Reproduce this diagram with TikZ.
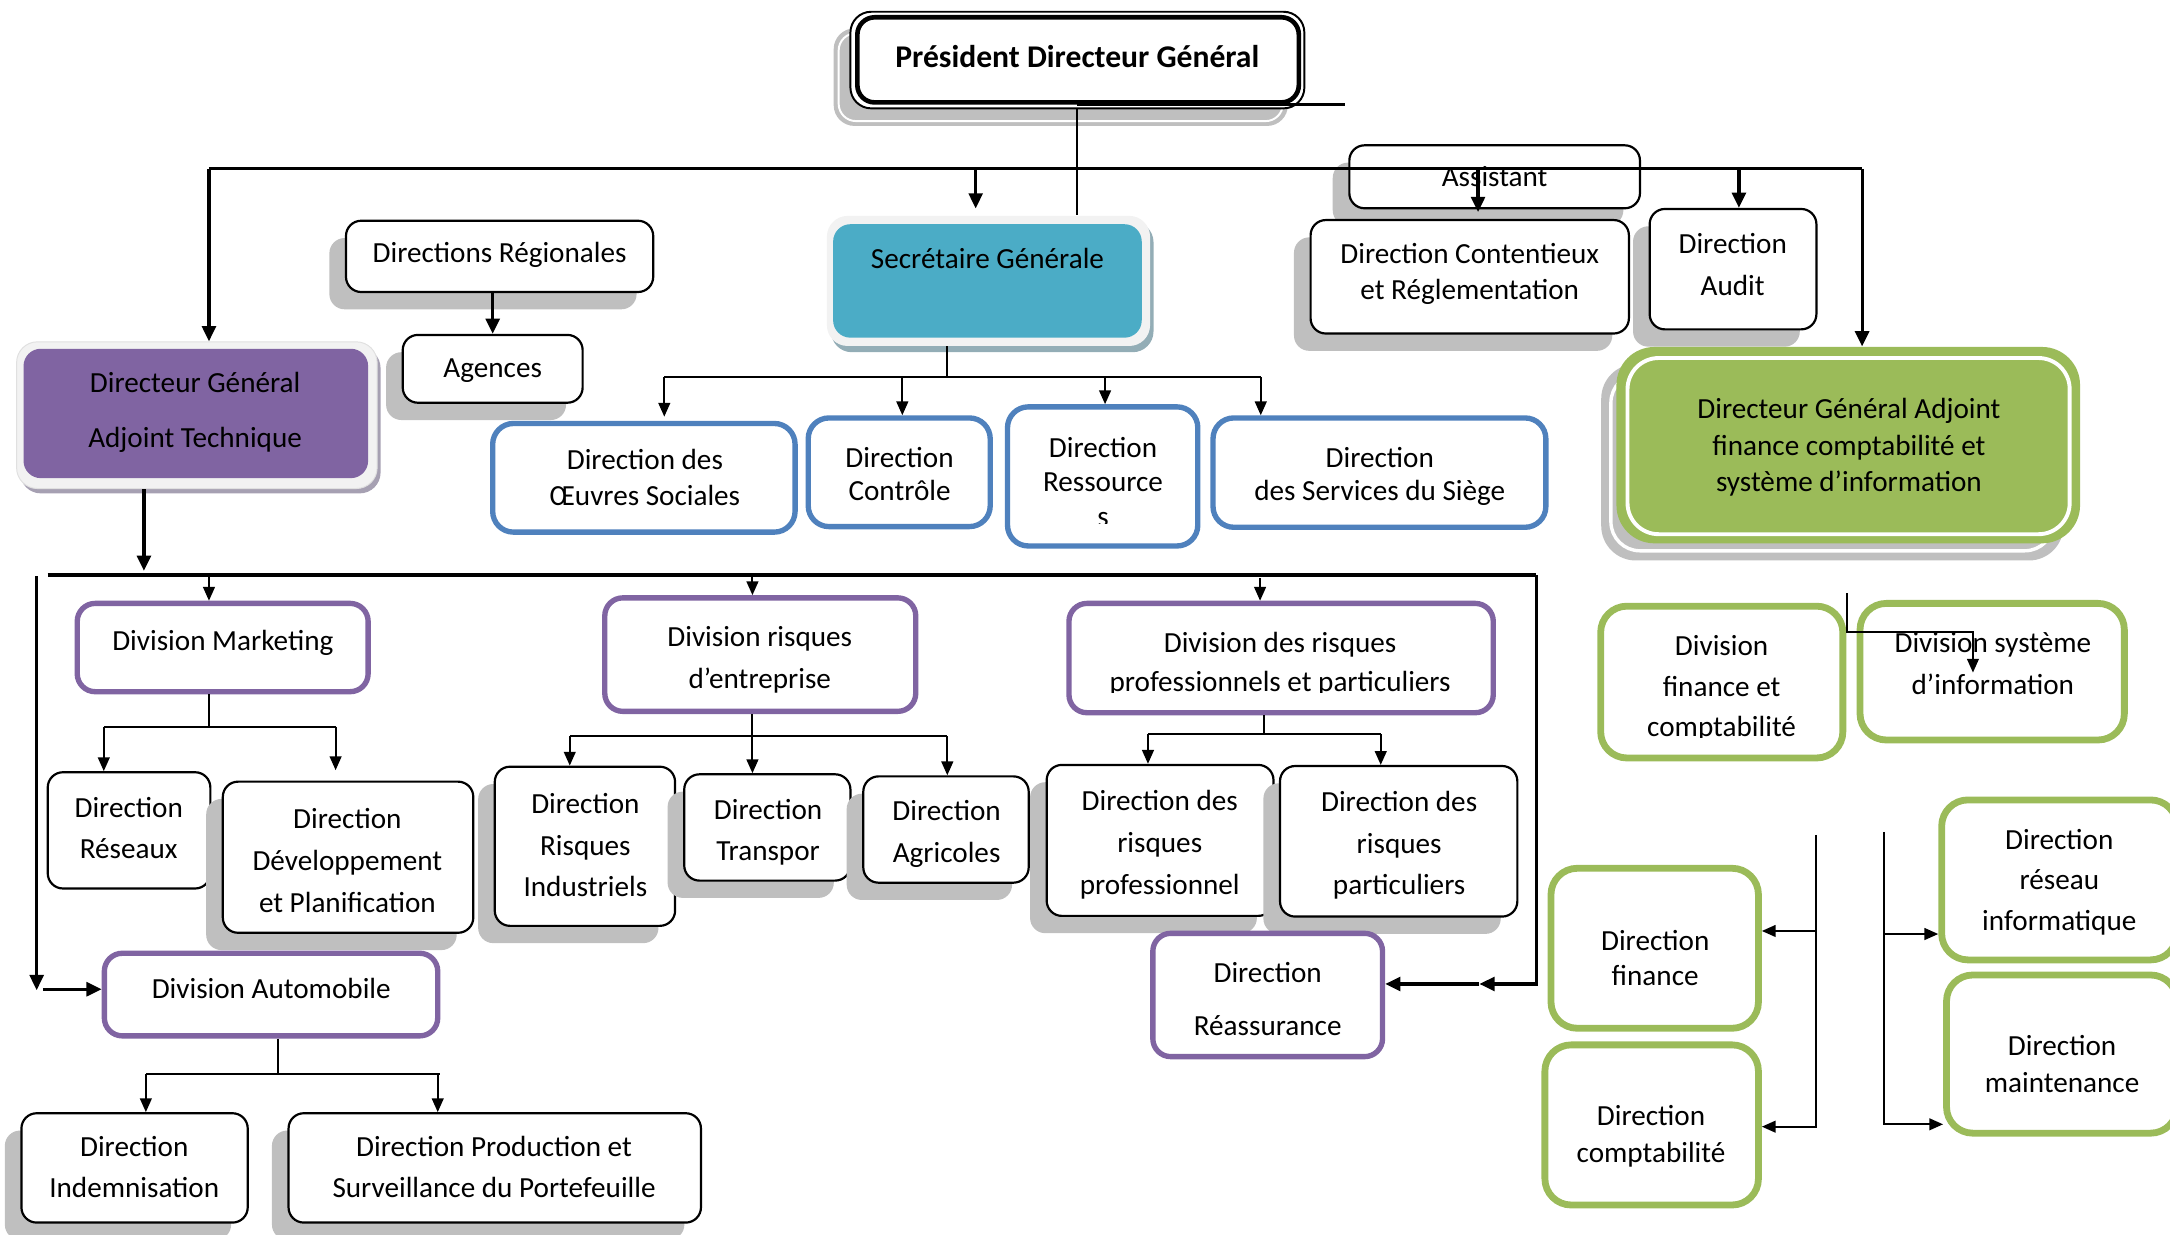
\documentclass[tikz,border=0pt]{standalone}
\usepackage{fontspec}
\setmainfont{Carlito}
\usetikzlibrary{fit,arrows.meta}

\definecolor{shd}{HTML}{BFBFBF}
\definecolor{vio}{HTML}{8064A2}
\definecolor{blu}{HTML}{4F81BD}
\definecolor{grn}{HTML}{9BBB59}
\definecolor{cya}{HTML}{4BACC6}
\definecolor{frm}{HTML}{F2F2F2}
\definecolor{vioshd}{HTML}{A6A0B2}
\definecolor{cyashd}{HTML}{93ADB6}

\tikzset{
  blk/.style={draw=black, line width=0.9pt, fill=white, rounded corners=0.22cm, inner sep=0pt},
  bbox/.style={draw=blu, line width=2.2pt, fill=white, rounded corners=0.3cm, inner sep=0pt},
  pbox/.style={draw=vio, line width=2.2pt, fill=white, rounded corners=0.26cm, inner sep=0pt},
  gbox/.style={draw=grn, line width=2.8pt, fill=white, rounded corners=0.38cm, inner sep=0pt},
  shadowfill/.style={fill=shd, rounded corners=0.22cm},
  tx/.style={anchor=base, inner sep=0pt, font=\fontsize{12pt}{14pt}\selectfont},
  bus/.style={line width=1.3pt},
  busa/.style={line width=1.3pt, -{Triangle[length=0.22cm,width=0.2cm]}},
  thn/.style={line width=0.8pt},
  thna/.style={line width=0.8pt, -{Triangle[length=0.2cm,width=0.17cm]}},
}

% black box with a grey drop shadow: name, x1, y1, x2, y2
\newcommand\shbox[5]{%
  \fill[shadowfill] (#2-12,#3+12.5) rectangle (#4-12,#5+12.5);
  \node[blk, fit={(#2,#3) (#4,#5)}] (#1) {};}
% centred text lines: name, x, first baseline, line step, lines
\newcommand\txl[5]{%
  \foreach \myline [count=\i from 0] in {#5}{%
    \node[tx] (#1\i) at (#2,{#3+\i*#4}) {\myline};}}

\begin{document}
\begin{tikzpicture}[x=0.02cm, y=-0.02cm]
\useasboundingbox (0,0) rectangle (1568,892);

% ---------- top level ----------
\fill[shd, rounded corners=0.3cm] (602.4,20.5) rectangle (930.6,91);
\draw[white, line width=0.8pt, rounded corners=0.25cm] (606,24) rectangle (927,87.5);
\node[draw=black, line width=0.8pt, fill=white, rounded corners=0.3cm, inner sep=0pt,
      fit={(614.5,8.5) (942.5,78.3)}] (pdg) {};
\draw[line width=1.9pt, rounded corners=0.25cm] (619.5,12.5) rectangle (938.5,74);

\shbox{assist}{975}{105}{1185}{150.5}
\shbox{dirreg}{250}{159.5}{472}{211}
\shbox{agences}{291}{242}{421}{291}
\shbox{cont}{947}{159}{1177}{241}
\shbox{audit}{1192}{151}{1312.5}{238}

% Secrétaire Générale
\fill[cyashd, rounded corners=0.3cm] (600.5,160) rectangle (833.5,254.5);
\node[fill=frm, rounded corners=0.3cm, inner sep=0pt, fit={(597.5,156) (831,250)}] (sg) {};
\fill[cya, rounded corners=0.25cm] (602,162) rectangle (825,244);

% Directeur Général Adjoint Technique
\fill[vioshd, rounded corners=0.3cm] (14.5,251) rectangle (275,356.5);
\node[fill=frm, draw=black!12, line width=0.4pt, rounded corners=0.3cm, inner sep=0pt,
      fit={(12,247) (272.5,353)}] (dgat) {};
\fill[vio, rounded corners=0.25cm] (17,252) rectangle (266,345.5);

% Directeur Général Adjoint finance
\fill[shd, rounded corners=0.5cm] (1157,263) rectangle (1491,405);
\draw[white, line width=1.4pt, rounded corners=0.42cm] (1164,270) rectangle (1484,398);
\node[fill=grn, rounded corners=0.55cm, inner sep=0pt, fit={(1168,250.7) (1503,392.6)}] (dgaf) {};
\draw[white, line width=1.6pt, rounded corners=0.45cm] (1176,258.7) rectangle (1495.5,386);

% directions of the Secrétaire Générale
\node[bbox, fit={(356,306) (574.5,384.5)}] (oeuvres) {};
\node[bbox, fit={(584,302) (715.5,380.5)}] (controle) {};
\node[bbox, fit={(728,294) (865.5,394.5)}] (ressources) {};
\node[bbox, fit={(876.5,302) (1117,381)}] (siege) {};

% divisions
\node[pbox, fit={(55.8,436) (266,499.8)}] (mkt) {};
\node[pbox, fit={(437,432) (661.7,514)}] (divrisq) {};
\node[pbox, fit={(772.4,436) (1079,515)}] (divdes) {};
\node[gbox, fit={(1156.6,438) (1331.6,547.7)}] (divfin) {};
\node[gbox, fit={(1344,436) (1535,534.7)}] (divsys) {};

% directions of the technical divisions
\node[blk, fit={(34.5,558) (152,642)}] (reseaux) {};
\shbox{devel}{161}{564.8}{342}{674}
\shbox{indus}{357.5}{554}{487.8}{669}
\shbox{transp}{494.4}{559.5}{614.5}{636.3}
\shbox{agri}{623.8}{561}{743.3}{637.8}
\shbox{prof}{756.3}{552.7}{920.2}{661.8}
\shbox{part}{924.9}{553.5}{1096.4}{662.3}
\node[pbox, fit={(833,674.4) (999,763.5)}] (reass) {};
\node[pbox, fit={(75.4,688.8) (316.3,748.5)}] (auto) {};
\shbox{indem}{15.5}{804.4}{179}{883.4}
\shbox{prod}{208.5}{804.4}{506.5}{883.4}

% directions of the finance branch
\node[gbox, fit={(1120.7,627.4) (1270.6,743)}] (finance) {};
\node[gbox, fit={(1116.3,755) (1270.6,870.7)}] (compta) {};
\node[gbox, fit={(1403,578) (1573,693.6)}] (resinfo) {};
\node[gbox, fit={(1406.5,704.5) (1573,818.8)}] (maint) {};

% ---------- connectors ----------
\coordinate (b0) at (151,122);
\coordinate (b1) at (1345.5,122);
\coordinate (bsg) at (705,122);
\coordinate (bct) at (1068,122);
\coordinate (bau) at (1256.5,122);
\draw[bus] (b0) -- (b1);
\draw[busa] (b0) -- (b0 |- dgat.north);
\draw[busa] (b1) -- (b1 |- dgaf.north);
\draw[busa, shorten >=0.1cm] (bsg) -- (bsg |- sg.north);
\draw[busa, shorten >=0.1cm] (bct) -- (bct |- cont.north);
\draw[busa] (bau) -- (bau |- audit.north);
\draw[thn] (pdg.south) -- (pdg.south |- sg.north);
\coordinate (pr) at (972,75.5);
\draw[line width=1.5pt] (pr -| pdg.south) -- (pr);

\draw[busa] (agences.north |- dirreg.south) -- (agences.north);

\coordinate (sgb) at (684,272.5);
\coordinate (s1) at (480,272.5);
\coordinate (s2) at (652,272.5);
\coordinate (s3) at (798.5,272.5);
\coordinate (s4) at (911,272.5);
\draw[thn] (sgb |- sg.south) -- (sgb);
\draw[thn] (s1) -- (s4);
\draw[thna, shorten >=0.06cm] (s1) -- (s1 |- oeuvres.north);
\draw[thna] (s2) -- (s2 |- controle.north);
\draw[thna] (s3) -- (s3 |- ressources.north);
\draw[thna] (s4) -- (s4 |- siege.north);

\coordinate (c0) at (34.5,415.5);
\coordinate (c1) at (1110,415.5);
\coordinate (cd) at (104,415.5);
\draw[busa, shorten >=0.06cm] (cd |- dgat.south) -- (cd);
\draw[bus] (c0) -- (c1);
\coordinate (cm) at (151,417);
\coordinate (cr) at (543.7,417);
\coordinate (cp) at (910.5,418);
\draw[thna] (cm) -- (cm |- mkt.north);
\draw[thna] (cr) -- (cr |- divrisq.north);
\draw[thna] (cp) -- (cp |- divdes.north);
\coordinate (v0) at (26.5,416.5);
\coordinate (v1) at (26.5,715.5);
\coordinate (v2) at (31,714.8);
\draw[busa] (v0) -- (v1);
\draw[busa] (v2) -- (v2 -| auto.west);
\coordinate (m1) at (1069,711);
\draw[busa] (c1) |- (m1);
\draw[busa] (m1) -- (m1 -| reass.east);

% Division Marketing
\coordinate (mk) at (151,525);
\coordinate (mk1) at (75,525);
\coordinate (mk2) at (242.5,525);
\draw[thn] (mk |- mkt.south) -- (mk);
\draw[thn] (mk1) -- (mk2);
\draw[thna] (mk1) -- (mk1 |- reseaux.north);
\draw[thna, shorten >=0.15cm] (mk2) -- (mk2 |- devel.north);

% Division risques d'entreprise
\coordinate (rk) at (543.7,532);
\coordinate (rk1) at (411.7,532);
\coordinate (rk2) at (684.5,532);
\draw[thn] (rk |- divrisq.south) -- (rk);
\draw[thn] (rk1) -- (rk2);
\draw[thna] (rk1) -- (rk1 |- indus.north);
\draw[thna] (rk) -- (rk |- transp.north);
\draw[thna] (rk2) -- (rk2 |- agri.north);

% Division des risques professionnels et particuliers
\coordinate (pk) at (913.3,530.4);
\coordinate (pk1) at (829.5,530.4);
\coordinate (pk2) at (997.7,530.4);
\draw[thn] (pk |- divdes.south) -- (pk);
\draw[thn] (pk1) -- (pk2);
\draw[thna] (pk1) -- (pk1 |- prof.north);
\draw[thna] (pk2) -- (pk2 |- part.north);

% Division Automobile
\coordinate (ak) at (201.2,776);
\coordinate (ak1) at (105.4,776);
\coordinate (ak2) at (316.3,776);
\draw[thn] (ak |- auto.south) -- (ak);
\draw[thn] (ak1) -- (318,776);
\draw[thna] (ak1) -- (ak1 |- indem.north);
\draw[thna] (ak2) -- (ak2 |- prod.north);

% finance branch
\coordinate (g0) at (1334.6,428.6);
\coordinate (g1) at (1334.6,456.4);
\coordinate (g2) at (1425.6,456.4);
\coordinate (g3) at (1425.6,486);
\draw[thna] (g0) -- (g1) -- (g2) -- (g3);
\coordinate (f0) at (1312,603.3);
\coordinate (f1) at (1312,815.2);
\coordinate (fa) at (1312,672.7);
\coordinate (fb) at (1312,814.1);
\draw[thn] (f0) -- (f1);
\draw[thna] (fa) -- (fa -| finance.east);
\draw[thna] (fb) -- (fb -| compta.east);
\coordinate (r0) at (1361,601);
\coordinate (r1) at (1361,812.9);
\coordinate (ra) at (1361,674.9);
\coordinate (rb) at (1361,812.4);
\draw[thn] (r0) -- (r1);
\draw[thna] (ra) -- (ra -| resinfo.west);
\draw[thna] (rb) -- (rb -| maint.west);

% ---------- texts ----------
\node[tx, font=\fontsize{13pt}{15pt}\selectfont\bfseries] (tpdg) at (778.5,49) {Président Directeur Général};
\txl{tassist}{1080}{135}{0}{Assistant}
\txl{tdirreg}{361}{190}{0}{Directions Régionales}
\txl{tagences}{356}{273}{0}{Agences}
\txl{tsg}{713.5}{194}{0}{Secrétaire Générale}
\txl{tcont}{1062}{190.5}{26}{Direction Contentieux,et Réglementation}
\txl{taudit}{1252}{183.5}{30}{Direction,Audit}
\txl{tdgat}{141}{283.5}{39.5}{Directeur Général,Adjoint Technique}
\txl{toeuv}{466}{339.5}{26}{Direction des,Œuvres Sociales}
\txl{tctrl}{650}{337.5}{24.5}{Direction,Contrôle}
\begin{scope}
  \clip (728,294) rectangle (866,378.5);
  \txl{tres}{797}{330.5}{25}{Direction,Ressource,s}
\end{scope}
\txl{tsiege}{997}{337.5}{24.5}{Direction,des Services du Siège}
\txl{tdgaf}{1336}{302.5}{26.5}{Directeur Général Adjoint,finance comptabilité et,système d’information}
\txl{tmkt}{161}{470}{0}{Division Marketing}
\txl{tdivr}{549}{467.5}{30}{Division risques,d’entreprise}
\begin{scope}
  \clip (772,436) rectangle (1079,500.5);
  \txl{tdivd}{925}{471.5}{28.5}{Division des risques,professionnels et particuliers}
\end{scope}
\begin{scope}
  \clip (1156,438) rectangle (1332,533);
  \txl{tdivf}{1244}{473.5}{29.5}{Division,finance et,comptabilité}
\end{scope}
\txl{tdivs}{1440}{471.5}{30}{Division système,d’information}
\txl{treseaux}{93}{590.5}{30}{Direction,Réseaux}
\txl{tdev}{251}{599}{30}{Direction,Développement,et Planification}
\txl{tind}{423}{588}{30}{Direction,Risques,Industriels}
\txl{ttra}{555}{592}{29.5}{Direction,Transpor}
\txl{tagr}{684}{593}{30}{Direction,Agricoles}
\txl{tprof}{838}{585.7}{30.2}{Direction des,risques,professionnel}
\txl{tpart}{1011}{586.5}{30}{Direction des,risques,particuliers}
\txl{treass}{916}{709.8}{38.5}{Direction,Réassurance}
\txl{tauto}{196}{721.8}{0}{Division Automobile}
\txl{tindem}{97}{836}{29.5}{Direction,Indemnisation}
\txl{tprod}{357}{836}{29.5}{Direction Production et,Surveillance du Portefeuille}
\txl{tfin}{1196}{687}{25.3}{Direction,finance}
\txl{tcompta}{1193}{813.3}{26.5}{Direction,comptabilité}
\txl{tresi}{1488}{613.5}{29.5}{Direction,réseau,informatique}
\txl{tmaint}{1490}{762.8}{26.3}{Direction,maintenance}
\end{tikzpicture}
\end{document}
